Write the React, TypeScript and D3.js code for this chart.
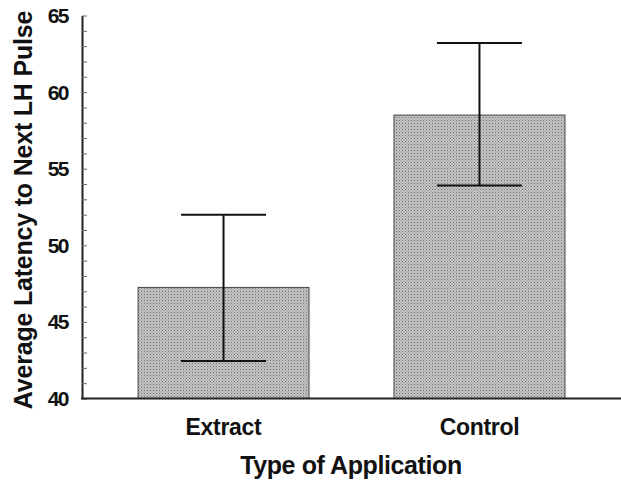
import React, { useEffect, useRef } from 'react';
import * as d3 from 'd3';

const categories = ['Extract', 'Control'];
const means = [47.25, 58.5];
const upper = [52.0, 63.2];
const lower = [42.45, 53.9];
const yTicks = [40, 45, 50, 55, 60, 65];

const W = 621;
const H = 481;

const App = () => {
  const svgRef = useRef<SVGSVGElement>(null);

  useEffect(() => {
    const svg = d3.select(svgRef.current);
    svg.selectAll('*').remove();

    const left = 82;
    const top = 15.5;
    const bottom = 398.5;

    const y = d3.scaleLinear().domain([40, 65]).range([bottom, top]);
    const x = d3.scaleBand<string>()
      .domain(categories)
      .range([left, 621])
      .paddingInner(0.332)
      .paddingOuter(0.219);

    // stippled grey fill
    const defs = svg.append('defs');
    const pat = defs.append('pattern')
      .attr('id', 'stipple')
      .attr('width', 3)
      .attr('height', 3)
      .attr('patternUnits', 'userSpaceOnUse');
    pat.append('rect').attr('width', 3).attr('height', 3).attr('fill', '#c4c4c4');
    pat.append('rect').attr('width', 1).attr('height', 1).attr('fill', '#6e6e6e');
    pat.append('rect').attr('x', 1.5).attr('y', 1.5).attr('width', 1).attr('height', 1).attr('fill', '#8e8e8e');

    const font = '"Liberation Sans", Arial, sans-serif';

    // bars
    svg.selectAll('.bar')
      .data(categories)
      .enter()
      .append('rect')
      .attr('x', d => x(d)!)
      .attr('y', (d, i) => y(means[i]))
      .attr('width', x.bandwidth())
      .attr('height', (d, i) => y(40) - y(means[i]))
      .attr('fill', 'url(#stipple)')
      .attr('stroke', '#444')
      .attr('stroke-width', 1);

    // error bars
    const capHalf = 42.5;
    categories.forEach((c, i) => {
      const cx = x(c)! + x.bandwidth() / 2;
      const g = svg.append('g').attr('stroke', '#111').attr('stroke-width', 2);
      g.append('line').attr('x1', cx).attr('x2', cx).attr('y1', y(upper[i])).attr('y2', y(lower[i]));
      g.append('line').attr('x1', cx - capHalf).attr('x2', cx + capHalf).attr('y1', y(upper[i])).attr('y2', y(upper[i]));
      g.append('line').attr('x1', cx - capHalf).attr('x2', cx + capHalf).attr('y1', y(lower[i])).attr('y2', y(lower[i]));
    });

    // y axis, minor ticks every unit pointing inward
    const yAxis = d3.axisLeft(y)
      .tickValues(d3.range(40, 66, 1))
      .tickSizeInner(-5)
      .tickSizeOuter(0)
      .tickFormat(() => '');
    const ya = svg.append('g').attr('transform', `translate(${left},0)`).call(yAxis);
    ya.select('.domain').attr('stroke', '#222').attr('stroke-width', 2);
    ya.selectAll('.tick line').attr('stroke', '#666').attr('stroke-width', 1);

    svg.append('g')
      .selectAll('text')
      .data(yTicks)
      .enter()
      .append('text')
      .attr('x', 68)
      .attr('y', d => y(d))
      .attr('dy', '0.36em')
      .attr('text-anchor', 'end')
      .attr('font-family', font)
      .attr('font-weight', 'bold')
      .attr('font-size', 21)
      .attr('letter-spacing', -1.5)
      .attr('fill', '#111')
      .text(d => d);

    // x axis line
    svg.append('line')
      .attr('x1', left - 1)
      .attr('x2', W)
      .attr('y1', bottom)
      .attr('y2', bottom)
      .attr('stroke', '#222')
      .attr('stroke-width', 2);

    svg.append('g')
      .selectAll('text')
      .data(categories)
      .enter()
      .append('text')
      .attr('x', d => x(d)! + x.bandwidth() / 2)
      .attr('y', 435)
      .attr('text-anchor', 'middle')
      .attr('font-family', font)
      .attr('font-weight', 'bold')
      .attr('font-size', 23)
      .attr('letter-spacing', -0.3)
      .attr('fill', '#111')
      .text(d => d);

    svg.append('text')
      .attr('x', 351)
      .attr('y', 474)
      .attr('text-anchor', 'middle')
      .attr('font-family', font)
      .attr('font-weight', 'bold')
      .attr('font-size', 25)
      .attr('letter-spacing', -0.4)
      .attr('fill', '#111')
      .text('Type of Application');

    svg.append('text')
      .attr('transform', `translate(32,210) rotate(-90)`)
      .attr('text-anchor', 'middle')
      .attr('font-family', font)
      .attr('font-weight', 'bold')
      .attr('font-size', 25)
      .attr('letter-spacing', -0.2)
      .attr('fill', '#111')
      .text('Average Latency to Next LH Pulse');
  }, []);

  return (
    <svg
      ref={svgRef}
      width={W}
      height={H}
      style={{ position: 'absolute', left: 0, top: 0, background: '#fff' }}
    />
  );
};

export default App;
